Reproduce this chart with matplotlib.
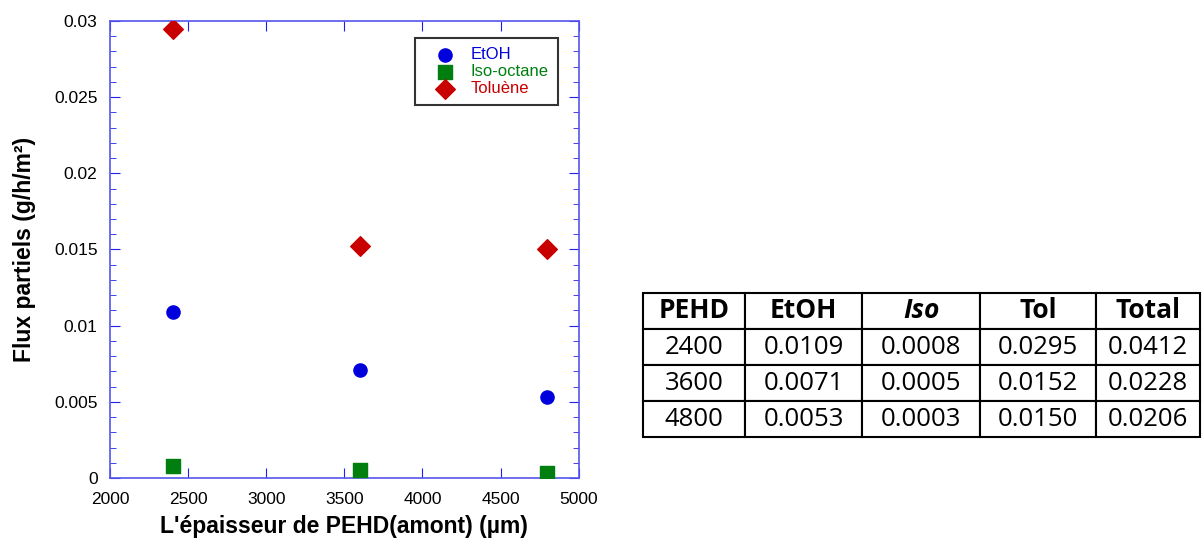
import numpy as np
import matplotlib
matplotlib.use('Agg')
import matplotlib.pyplot as plt
from matplotlib.ticker import MultipleLocator

# data
pehd = [2400, 3600, 4800]
etoh = [0.0109, 0.0071, 0.0053]
iso = [0.0008, 0.0005, 0.0003]
tol = [0.0295, 0.0152, 0.0150]
total = [0.0412, 0.0228, 0.0206]
col_labels = ['PEHD', 'EtOH', 'Iso', 'Tol', 'Total']

plt.rcParams['font.family'] = ['Liberation Sans', 'DejaVu Sans']

fig = plt.figure(figsize=(12.03, 5.41), dpi=100)
ax = fig.add_axes([0.0915, 0.1165, 0.3895, 0.8447])

ax.scatter(pehd, etoh, s=90, marker='o', color='#0000dd', label='EtOH', zorder=3)
ax.scatter(pehd, iso, s=110, marker='s', color='#007f10', label='Iso-octane', zorder=3)
ax.scatter(pehd, tol, s=100, marker='D', color='#c80000', label='Toluène', zorder=3)

ax.set_xlim(2000, 5000)
ax.set_ylim(0, 0.03)
ax.xaxis.set_major_locator(MultipleLocator(500))
ax.yaxis.set_minor_locator(MultipleLocator(0.001))
ax.set_yticks([0, 0.005, 0.01, 0.015, 0.02, 0.025, 0.03])
ax.set_yticklabels(['0', '0.005', '0.01', '0.015', '0.02', '0.025', '0.03'])
ax.tick_params(which='both', direction='in', top=True, right=True, color='#2020ee', labelsize=12.5)
ax.tick_params(which='major', length=7)
ax.tick_params(which='minor', length=4)
ax.tick_params(axis='x', pad=10)
ax.tick_params(axis='y', pad=9)
for s in ax.spines.values():
    s.set_color('#5555ee')
    s.set_linewidth(1.2)

ax.set_xlabel("L'épaisseur de PEHD(amont) (µm)", fontsize=16.5, fontweight='bold', labelpad=6)
ax.set_ylabel('Flux partiels (g/h/m²)', fontsize=16.5, fontweight='bold', labelpad=13)

leg = ax.legend(loc='upper right', bbox_to_anchor=(0.955, 0.963), borderaxespad=0, fontsize=12,
                frameon=True, fancybox=False, edgecolor='black', handlelength=2.6,
                handletextpad=0.2, borderpad=0.55, labelspacing=0.12)
leg.get_frame().set_linewidth(1.5)
for t, c in zip(leg.get_texts(), ['#0000dd', '#007f10', '#c80000']):
    t.set_color(c)

# table
tax = fig.add_axes([643 / 1203, 1 - 437 / 541, (1200 - 643) / 1203, (437 - 293) / 541])
tax.axis('off')
cells = []
for i in range(len(pehd)):
    cells.append([str(pehd[i]), '%.4f' % etoh[i], '%.4f' % iso[i], '%.4f' % tol[i], '%.4f' % total[i]])
widths = np.array([102, 117, 118, 116, 104], dtype=float)
widths = widths / widths.sum()
tbl = tax.table(cellText=cells, colLabels=col_labels, colWidths=list(widths),
                cellLoc='center', bbox=[0, 0, 1, 1])
tbl.auto_set_font_size(False)
for (r, c), cell in tbl.get_celld().items():
    cell.set_linewidth(1.5)
    cell.get_text().set_fontsize(18.5)
    cell.get_text().set_family(['Open Sans', 'DejaVu Sans'])
    if r == 0:
        cell.get_text().set_fontweight('bold')
        cell.get_text().set_fontsize(19)
        if c == 2:
            cell.get_text().set_fontstyle('italic')

fig.savefig('out.png', dpi=100)
